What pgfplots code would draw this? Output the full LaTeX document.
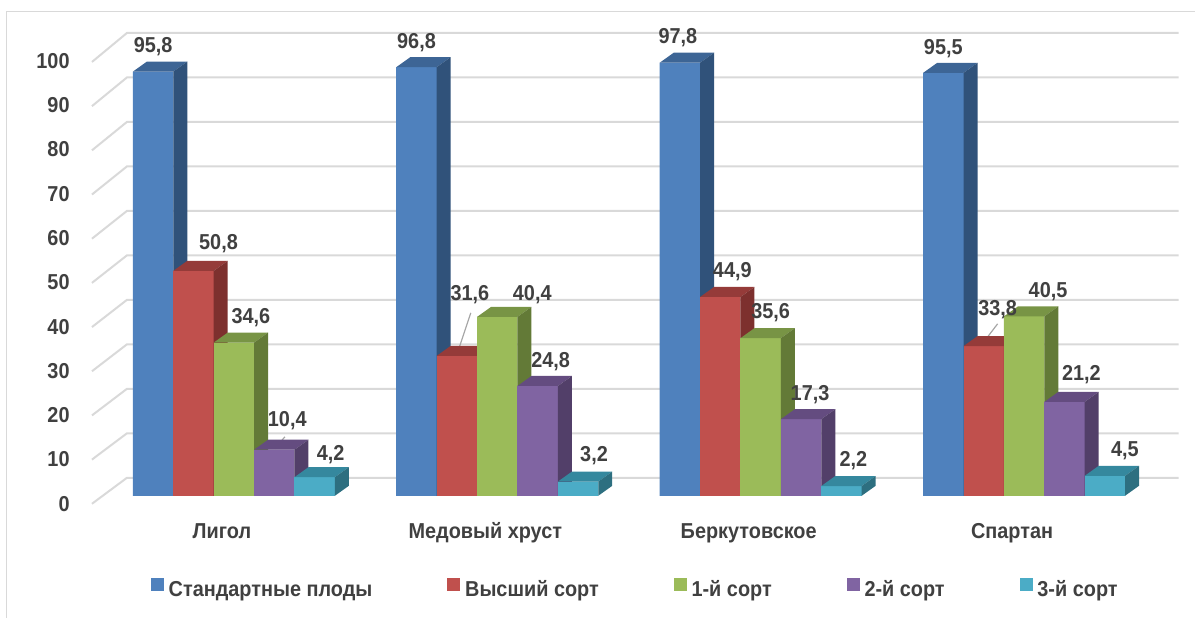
\documentclass[border=0pt]{standalone}
\usepackage{pgfplots}
\pgfplotsset{compat=1.18}
\usepackage{pgfplotstable}
\usepackage{fontspec}
\setmainfont{Liberation Sans}[FakeStretch=0.92]

\definecolor{txt}{HTML}{404040}
\definecolor{gridc}{HTML}{D9D9D9}
\definecolor{leadc}{HTML}{A6A6A6}
\definecolor{cA}{HTML}{4F81BD}\definecolor{tA}{HTML}{3D6595}\definecolor{sA}{HTML}{30527A}
\definecolor{cB}{HTML}{C0504D}\definecolor{tB}{HTML}{953B39}\definecolor{sB}{HTML}{7D302E}
\definecolor{cC}{HTML}{9BBB59}\definecolor{tC}{HTML}{789445}\definecolor{sC}{HTML}{637A37}
\definecolor{cD}{HTML}{8064A2}\definecolor{tD}{HTML}{644C80}\definecolor{sD}{HTML}{523F69}
\definecolor{cE}{HTML}{4BACC6}\definecolor{tE}{HTML}{35889E}\definecolor{sE}{HTML}{2D6F80}

\newcommand\myfont{\bfseries\fontsize{10.8}{12.5}\selectfont}

% a whole 3-D bar (front, top and right faces), drawn at the bar's top point;
% the bar height comes from the point meta (= y, mapped 0..100 -> 0..1000)
\newcommand\barmark[5]{%
  \pgfdeclareplotmark{#1}{%
    \pgfmathsetmacro\hh{5-\pgfplotspointmetatransformed*0.2215}%
    \pgfmathsetmacro\hf{0-\pgfplotspointmetatransformed*0.2215}%
    \pgfmathsetmacro\xl{#5-10.1}%
    \pgfmathsetmacro\xlb{#5-3.1}%
    \pgfmathsetmacro\xr{#5+10.1}%
    \pgfmathsetmacro\xrb{#5+17.1}%
    \pgfsetfillcolor{#2}%
    \pgfpathrectanglecorners{\pgfpoint{\xl pt}{\hf pt}}{\pgfpoint{\xr pt}{0pt}}%
    \pgfusepath{fill}%
    \pgfsetfillcolor{#3}%
    \pgfpathmoveto{\pgfpoint{\xl pt}{0pt}}%
    \pgfpathlineto{\pgfpoint{\xlb pt}{5pt}}%
    \pgfpathlineto{\pgfpoint{\xrb pt}{5pt}}%
    \pgfpathlineto{\pgfpoint{\xr pt}{0pt}}%
    \pgfpathclose
    \pgfusepath{fill}%
    \pgfsetfillcolor{#4}%
    \pgfpathmoveto{\pgfpoint{\xr pt}{0pt}}%
    \pgfpathlineto{\pgfpoint{\xrb pt}{5pt}}%
    \pgfpathlineto{\pgfpoint{\xrb pt}{\hh pt}}%
    \pgfpathlineto{\pgfpoint{\xr pt}{\hf pt}}%
    \pgfpathclose
    \pgfusepath{fill}%
  }}
\barmark{bmA}{cA}{tA}{sA}{-40.4}
\barmark{bmB}{cB}{tB}{sB}{-20.2}
\barmark{bmC}{cC}{tC}{sC}{0}
\barmark{bmD}{cD}{tD}{sD}{20.2}
\barmark{bmE}{cE}{tE}{sE}{40.4}

% x = category, v = value, lx/ly = label offsets (px)
\pgfplotstableread{
x v lx ly
0 95.8 0 18
1 96.8 0 17
2 97.8 -2 18
3 95.5 0 17
}\dataA
\pgfplotstableread{
x v lx ly
0 50.8 25 20
1 31.6 13 54
2 44.9 12 18
3 33.8 14 29
}\dataB
\pgfplotstableread{
x v lx ly
0 34.6 17 18
1 40.4 35 15
2 35.6 10 18
3 40.5 24 18
}\dataC
\pgfplotstableread{
x v lx ly
0 10.4 13 22
1 24.8 13 17
2 17.3 9 17
3 21.2 17 20
}\dataD
\pgfplotstableread{
x v lx ly
0 4.2 16 15
1 3.2 16 19
2 2.2 12 18
3 4.5 20 18
}\dataE

\pgfplotsset{
  front/.style={forget plot, ybar, bar width=20.2pt, draw=none, fill=#1},
  faces/.style={forget plot, only marks, scatter, mark=#1, point meta=y,
    scatter/@pre marker code/.code={}, scatter/@post marker code/.code={}},
  labs/.style={forget plot, draw=none, mark=none, point meta=explicit,
    nodes near coords={\pgfmathprintnumber[fixed,fixed zerofill,precision=1,use comma]{\pgfplotspointmeta}},
    every node near coord/.append style={anchor=south, inner sep=0pt, font=\myfont, text=txt}},
  sq/.style={legend image code/.code={\fill[#1] (0pt,0pt) rectangle (6pt,6pt);}},
}

\begin{document}
\begin{tikzpicture}
\begin{axis}[
  x=131.75pt, y=2.215pt,
  xmin=-0.5389, xmax=3.5863, ymin=0, ymax=100,
  point meta min=0, point meta max=100,
  clip=false,
  axis line style={draw=none},
  major tick length=0pt,
  xtick={0,1,2,3},
  xticklabels={Лигол,Медовый хруст,Беркутовское,Спартан},
  ytick={0,10,...,100},
  /pgf/number format/assume math mode=true,
  tick label style={font=\myfont, text=txt},
  xticklabel style={anchor=base, inner sep=0pt, yshift=-21.5pt, xshift=-6pt},
  yticklabel style={anchor=east, inner sep=0pt, xshift=-11pt, yshift=-4pt},
  legend columns=5,
  legend cell align=left,
  legend style={at={(axis cs:-0.315,-20.99)}, anchor=west, draw=none, fill=none,
    inner sep=0pt, outer sep=0pt, font=\myfont, text=txt,
    column sep=2.5pt, nodes={inner sep=0pt},
    /tikz/every even column/.append style={column sep=37.5pt}},
]
% picture frame and walls
\path (axis cs:-0.888,-27.54) rectangle (axis cs:3.647,111.96);
\draw[gridc, line width=0.5pt] (axis cs:-0.8615,-27.54) -- (axis cs:-0.8615,109.26) -- (axis cs:3.647,109.26);
\pgfplotsinvokeforeach{0,10,...,100}{%
  \draw[gridc, line width=1pt] (axis cs:-0.5389,{0.9977*#1-1.806}) -- (axis cs:-0.4061,{1.0045*#1+4.063}) -- (axis cs:3.5863,{1.0045*#1+4.063});
}

\addplot[front=cA, bar shift=-40.4pt] table[x=x,y=v]{\dataA};
\addplot[front=cB, bar shift=-20.2pt] table[x=x,y=v]{\dataB};
\addplot[front=cC, bar shift=0pt] table[x=x,y=v]{\dataC};
\addplot[front=cD, bar shift=20.2pt] table[x=x,y=v]{\dataD};
\addplot[front=cE, bar shift=40.4pt] table[x=x,y=v]{\dataE};
% 3-D bodies of the same bars, series by series so that nearer bars cover farther ones
\addplot[faces=bmA] table[x=x,y=v]{\dataA};
\addplot[faces=bmB] table[x=x,y=v]{\dataB};
\addplot[faces=bmC] table[x=x,y=v]{\dataC};
\addplot[faces=bmD] table[x=x,y=v]{\dataD};
\addplot[faces=bmE] table[x=x,y=v]{\dataE};

% value labels (offsets in px: 263.5 px per category, 4.43 px per unit)
\addplot[labs] table[x expr=\thisrow{x}+(\thisrow{lx}-80.8)/263.5, y expr=\thisrow{v}+(\thisrow{ly}-2.5)/4.43, meta=v]{\dataA};
\addplot[labs] table[x expr=\thisrow{x}+(\thisrow{lx}-40.4)/263.5, y expr=\thisrow{v}+(\thisrow{ly}-2.5)/4.43, meta=v]{\dataB};
\addplot[labs] table[x expr=\thisrow{x}+(\thisrow{lx})/263.5, y expr=\thisrow{v}+(\thisrow{ly}-2.5)/4.43, meta=v]{\dataC};
\addplot[labs] table[x expr=\thisrow{x}+(\thisrow{lx}+40.4)/263.5, y expr=\thisrow{v}+(\thisrow{ly}-2.5)/4.43, meta=v]{\dataD};
\addplot[labs] table[x expr=\thisrow{x}+(\thisrow{lx}+80.8)/263.5, y expr=\thisrow{v}+(\thisrow{ly}-2.5)/4.43, meta=v]{\dataE};

\addlegendimage{sq=cA}\addlegendentry{Стандартные плоды}
\addlegendimage{sq=cB}\addlegendentry{Высший сорт}
\addlegendimage{sq=cC}\addlegendentry{1-й сорт}
\addlegendimage{sq=cD}\addlegendentry{2-й сорт}
\addlegendimage{sq=cE}\addlegendentry{3-й сорт}

% leader lines of moved labels
\draw[leadc, line width=0.6pt] (axis cs:0.1556,10.61) -- (axis cs:0.1935,13.32);
\draw[leadc, line width=0.6pt] (axis cs:0.8463,31.83) -- (axis cs:0.8994,41.31);
\draw[leadc, line width=0.6pt] (axis cs:2.8387,34.09) -- (axis cs:2.8994,38.83);
\end{axis}
\end{tikzpicture}
\end{document}
